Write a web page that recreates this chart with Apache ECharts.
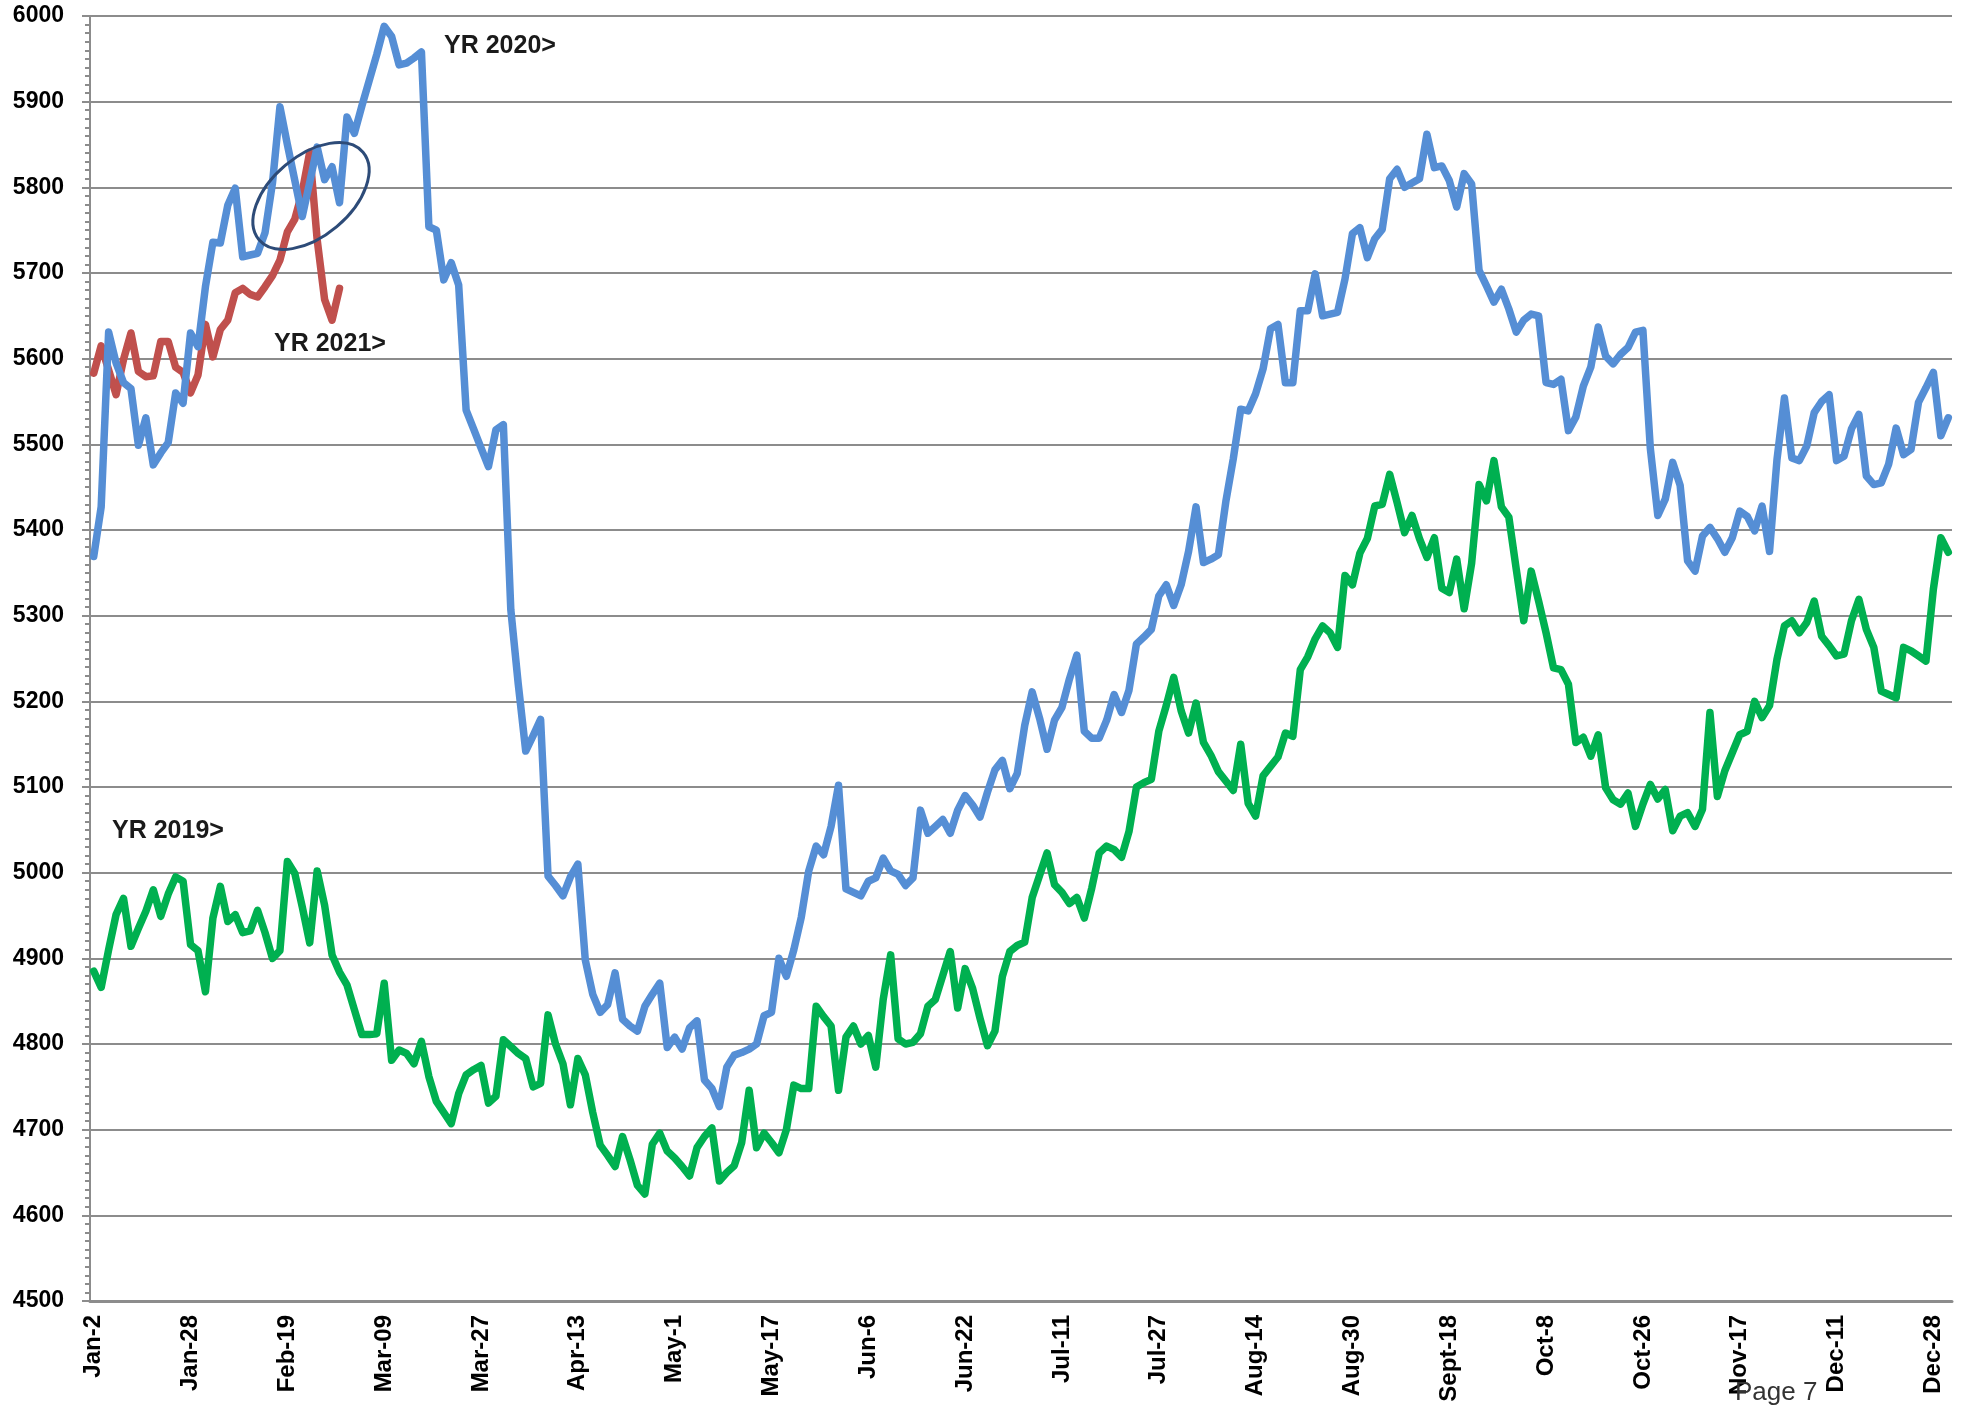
<!DOCTYPE html>
<html>
<head>
<meta charset="utf-8">
<script src="https://cdn.jsdelivr.net/npm/echarts/dist/echarts.min.js"></script>
<style>
html, body { margin: 0; padding: 0; background: #fff; }
#mybox { width: 1968px; height: 1407px; }
</style>
</head>
<body>
<div id="mybox"></div>
<script>
// tick labels, one every 13 trading days
var tickLabels = ['Jan-2', 'Jan-28', 'Feb-19', 'Mar-09', 'Mar-27', 'Apr-13', 'May-1', 'May-17', 'Jun-6', 'Jun-22',
    'Jul-11', 'Jul-27', 'Aug-14', 'Aug-30', 'Sept-18', 'Oct-8', 'Oct-26', 'Nov-17', 'Dec-11', 'Dec-28'];
var labelStep = 13;

// YR 2019 (green)
var yr2019 = [
    4885, 4866, 4910, 4951, 4970, 4914, 4935, 4955, 4980, 4949,
    4975, 4995, 4990, 4916, 4909, 4861, 4947, 4984, 4943, 4951,
    4930, 4932, 4956, 4930, 4900, 4909, 5013, 4999, 4960, 4918,
    5002, 4962, 4904, 4884, 4869, 4840, 4811, 4811, 4812, 4871,
    4781, 4793, 4789, 4777, 4803, 4762, 4733, 4720, 4707, 4742,
    4764, 4770, 4775, 4731, 4739, 4805, 4797, 4789, 4783, 4750,
    4754, 4834, 4800, 4777, 4729, 4783, 4764, 4720, 4682, 4670,
    4657, 4692, 4665, 4635, 4625, 4683, 4696, 4675, 4667, 4657,
    4646, 4679, 4692, 4702, 4640, 4650, 4658, 4685, 4746, 4679,
    4696, 4685, 4673, 4700, 4752, 4748, 4748, 4844, 4832, 4821,
    4746, 4808, 4821, 4800, 4810, 4773, 4852, 4904, 4806, 4800,
    4802, 4812, 4844, 4852, 4880, 4908, 4842, 4888, 4865, 4830,
    4798, 4815, 4879, 4908, 4915, 4919, 4971, 4997, 5023, 4986,
    4977, 4964, 4971, 4947, 4982, 5023, 5031, 5027, 5018, 5048,
    5100, 5105, 5109, 5165, 5195, 5228, 5189, 5163, 5198, 5152,
    5137, 5118, 5107, 5096, 5150, 5081, 5066, 5113, 5124, 5135,
    5163, 5159, 5237, 5252, 5273, 5288, 5280, 5263, 5347, 5336,
    5373, 5390, 5428, 5430, 5465, 5432, 5397, 5417, 5390, 5368,
    5391, 5332, 5327, 5366, 5308, 5361, 5453, 5434, 5481, 5427,
    5415, 5354, 5294, 5352, 5317, 5280, 5239, 5237, 5220, 5152,
    5158, 5136, 5161, 5099, 5085, 5080, 5093, 5054, 5080, 5103,
    5086, 5097, 5049, 5066, 5070, 5054, 5074, 5187, 5089, 5119,
    5140, 5161, 5165, 5200, 5181, 5195, 5249, 5288, 5294, 5280,
    5292, 5317, 5276, 5265, 5253, 5255, 5294, 5319, 5284, 5263,
    5212, 5208, 5204, 5263, 5259, 5253, 5247, 5331, 5391, 5374
];

// YR 2020 (blue)
var yr2020 = [
    5369, 5427, 5631, 5595, 5572, 5565, 5499, 5531, 5476, 5490,
    5502, 5560, 5548, 5630, 5614, 5684, 5736, 5735, 5779, 5799,
    5719, 5721, 5723, 5747, 5805, 5894, 5850, 5808, 5766, 5806,
    5847, 5809, 5824, 5782, 5882, 5863, 5895, 5925, 5955, 5988,
    5976, 5943, 5945, 5951, 5958, 5754, 5750, 5692, 5712, 5686,
    5540, 5518, 5496, 5474, 5517, 5523, 5307, 5220, 5142, 5160,
    5179, 4996, 4985, 4973, 4995, 5010, 4898, 4858, 4837, 4846,
    4883, 4829, 4821, 4815, 4844, 4858, 4871, 4796, 4808, 4794,
    4819, 4827, 4758, 4748, 4727, 4773, 4787, 4790, 4794, 4800,
    4833, 4837, 4900, 4879, 4910, 4948, 5002, 5031, 5021, 5054,
    5102, 4981, 4977, 4973, 4990, 4994, 5017, 5002, 4998, 4985,
    4994, 5073, 5046, 5054, 5062, 5046, 5073, 5090, 5079, 5065,
    5094, 5120, 5131, 5098, 5116, 5172, 5211, 5180, 5144, 5178,
    5193, 5226, 5254, 5165, 5157, 5157, 5178, 5208, 5187, 5213,
    5267, 5275, 5284, 5323, 5336, 5312, 5336, 5375, 5427, 5362,
    5366, 5371, 5433, 5483, 5541, 5539, 5559, 5588, 5635, 5640,
    5572, 5572, 5656, 5656, 5699, 5650, 5652, 5654, 5693, 5746,
    5753, 5718, 5740, 5751, 5810, 5821, 5800, 5805, 5810, 5862,
    5823, 5825, 5808, 5777, 5816, 5804, 5703, 5685, 5666, 5681,
    5658, 5631, 5645, 5652, 5650, 5572, 5570, 5576, 5516, 5532,
    5568, 5590, 5637, 5603, 5594, 5605, 5613, 5631, 5633, 5495,
    5417, 5436, 5479, 5452, 5364, 5352, 5393, 5403, 5390, 5374,
    5391, 5422, 5416, 5399, 5428, 5375, 5482, 5554, 5484, 5481,
    5498, 5537, 5550, 5558, 5481, 5486, 5518, 5535, 5463, 5453,
    5455, 5477, 5519, 5488, 5494, 5549, 5566, 5584, 5510, 5531
];

// YR 2021 (red), year to date
var yr2021 = [
    5583, 5615, 5587, 5558, 5599, 5630, 5585, 5579, 5580, 5620,
    5620, 5590, 5584, 5560, 5581, 5640, 5602, 5634, 5645, 5677,
    5682, 5675, 5672, 5684, 5697, 5715, 5748, 5763, 5795, 5841,
    5739, 5669, 5645, 5682
];

// x categories: tick label every labelStep points, index otherwise
var categories = [];
for (var i = 0; i < yr2020.length; i++) {
    categories.push(i % labelStep === 0 ? tickLabels[i / labelStep] : String(i));
}

var mycharts = echarts.init(document.getElementById('mybox'));

var labelFont = {
    color: '#000',
    fontSize: 24,
    fontWeight: 'bold',
    fontFamily: '"Liberation Sans", Arial, sans-serif'
};

var optionObj = {
    animation: false,
    backgroundColor: '#fff',
    grid: { left: 90, right: 16, top: 16, bottom: 106 },
    xAxis: {
        type: 'category',
        data: categories,
        boundaryGap: true,
        axisLine: { lineStyle: { color: '#8c8c8c', width: 3 } },
        axisTick: { show: false },
        axisLabel: Object.assign({ interval: labelStep - 1, rotate: 90, margin: 14 }, labelFont),
        splitLine: { show: false }
    },
    yAxis: {
        type: 'value',
        min: 4500,
        max: 6000,
        interval: 100,
        axisLine: { show: true, lineStyle: { color: '#8c8c8c', width: 2 } },
        axisTick: { show: true, inside: false, length: 8, lineStyle: { color: '#8c8c8c', width: 2 } },
        minorTick: { show: true, splitNumber: 10, length: 5, lineStyle: { color: '#8c8c8c', width: 2 } },
        axisLabel: Object.assign({}, labelFont, {
            fontSize: 23,
            margin: 26,
            formatter: function (v) { return String(v); }
        }),
        splitLine: { lineStyle: { color: '#8c8c8c', width: 2 } }
    },
    series: [
        {
            name: 'YR 2019',
            type: 'line',
            data: yr2019,
            symbol: 'none',
            lineStyle: { color: '#00b050', width: 7.5, cap: 'round', join: 'round' },
            z: 2
        },
        {
            name: 'YR 2021',
            type: 'line',
            data: yr2021,
            symbol: 'none',
            lineStyle: { color: '#c0504d', width: 7.5, cap: 'round', join: 'round' },
            z: 3
        },
        {
            name: 'YR 2020',
            type: 'line',
            data: yr2020,
            symbol: 'none',
            lineStyle: { color: '#558ed5', width: 7.5, cap: 'round', join: 'round' },
            z: 4
        }
    ],
    graphic: [
        {
            type: 'text', left: 444, top: 34, z: 10,
            style: { text: 'YR 2020>', font: 'bold 25px "Liberation Sans", Arial, sans-serif', fill: '#1a1a1a' }
        },
        {
            type: 'text', left: 274, top: 332, z: 10,
            style: { text: 'YR 2021>', font: 'bold 25px "Liberation Sans", Arial, sans-serif', fill: '#1a1a1a' }
        },
        {
            type: 'text', left: 112, top: 819, z: 10,
            style: { text: 'YR 2019>', font: 'bold 25px "Liberation Sans", Arial, sans-serif', fill: '#1a1a1a' }
        },
        {
            // circled area
            type: 'ellipse', x: 311, y: 196, rotation: 0.7, z: 10,
            shape: { cx: 0, cy: 0, rx: 68, ry: 40 },
            style: { fill: 'none', stroke: '#2d4b78', lineWidth: 3 }
        },
        {
            type: 'text', left: 1735, top: 1380, z: 10,
            style: { text: 'Page 7', font: '26px "Liberation Sans", Arial, sans-serif', fill: '#333' }
        }
    ]
};

mycharts.setOption(optionObj);
</script>
</body>
</html>
